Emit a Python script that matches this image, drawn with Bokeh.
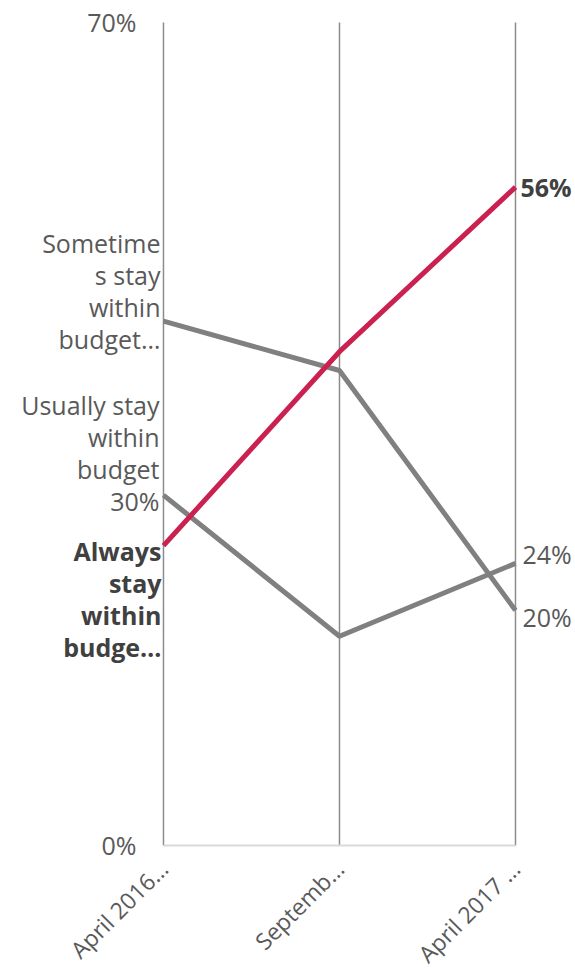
from math import pi
from bokeh.plotting import figure
from bokeh.models import Range1d, FixedTicker, LabelSet, ColumnDataSource
from bokeh.core.properties import value
from bokeh.embed import file_html
from bokeh.resources import INLINE

# ---- data ----
categories = ["April 2016…", "Septemb…", "April 2017 …"]
always = [25.5, 42.0, 56.0]
sometimes = [44.6, 40.4, 20.0]
usually = [29.8, 17.8, 24.0]
always_label = ["Always", "stay", "within", "budge…"]
sometimes_label = ["Sometime", "s stay", "within", "budget…"]
usually_label = ["Usually stay", "within", "budget", "30%"]
end_labels = ["56%", "20%", "24%"]
y_ticks = [0, 70]
y_tick_labels = ["0%", "70%"]

FONT = "Open Sans"
GREY_TXT = "#595959"
DARK_TXT = "#404040"
RED = "#CB2150"
GREY = "#808080"
FS = "25px"
PITCH = 32

xs = list(range(len(categories)))

# frame spans the whole canvas width; ranges padded so labels fit
p = figure(frame_width=575, frame_height=858,
           x_range=Range1d(-0.926, 2.341), y_range=Range1d(-1.106, 71.871),
           output_backend="svg", toolbar_location=None,
           min_border_left=0, min_border_right=0, min_border_top=0, min_border_bottom=110)
p.outline_line_color = None
p.background_fill_color = "white"
p.border_fill_color = "white"

# x axis: only the labels
p.xaxis.ticker = FixedTicker(ticks=xs)
p.xaxis.major_label_overrides = {i: c for i, c in enumerate(categories)}
p.xaxis.major_label_orientation = pi / 4
p.xaxis.axis_line_color = None
p.xaxis.major_tick_line_color = None
p.xaxis.minor_tick_line_color = None
p.xaxis.major_label_text_font = FONT
p.xaxis.major_label_text_font_size = "23px"
p.xaxis.major_label_text_color = GREY_TXT
p.xaxis.major_label_standoff = 0
p.yaxis.visible = False
p.grid.visible = False

# vertical category lines from 0% to 70%
p.segment(x0=xs, y0=[y_ticks[0]] * len(xs), x1=xs, y1=[y_ticks[-1]] * len(xs),
          line_color="#8C8C8C", line_width=1.5)
# baseline
p.segment(x0=[xs[0]], y0=[y_ticks[0]], x1=[xs[-1]], y1=[y_ticks[0]],
          line_color="#D9D9D9", line_width=2)

# y tick labels
ysrc = ColumnDataSource(dict(x=[xs[0]] * len(y_ticks), y=y_ticks, t=y_tick_labels))
p.add_layout(LabelSet(x="x", y="y", text="t", source=ysrc, x_offset=-27,
                      text_align="right", text_baseline="middle", text_font=value(FONT),
                      text_font_size=FS, text_color=GREY_TXT))

# lines
p.line(xs, sometimes, line_color=GREY, line_width=5)
p.line(xs, usually, line_color=GREY, line_width=5)
p.line(xs, always, line_color=RED, line_width=5)


def add_block(x, y, lines, align, first_off, xoff, bold=False):
    n = len(lines)
    src = ColumnDataSource(dict(x=[x] * n, y=[y] * n, t=lines,
                                dy=[first_off - PITCH * i for i in range(n)]))
    ls = LabelSet(x="x", y="y", text="t", source=src, x_offset=xoff, y_offset="dy",
                  text_align=align, text_baseline="middle", text_font=value(FONT),
                  text_font_size=FS, text_color=DARK_TXT if bold else GREY_TXT,
                  text_font_style="bold" if bold else "normal")
    p.add_layout(ls)


add_block(xs[0], sometimes[0], sometimes_label, "right", 78, -3)
add_block(xs[0], usually[0], usually_label, "right", 90, -4)
add_block(xs[0], always[0], always_label, "right", -5, -2, bold=True)

add_block(xs[-1], always[-1], [end_labels[0]], "left", 0, 5, bold=True)
add_block(xs[-1], sometimes[-1], [end_labels[1]], "left", -7, 7)
add_block(xs[-1], usually[-1], [end_labels[2]], "left", 9, 7)

open("out.html", "w").write(file_html(p, INLINE))
